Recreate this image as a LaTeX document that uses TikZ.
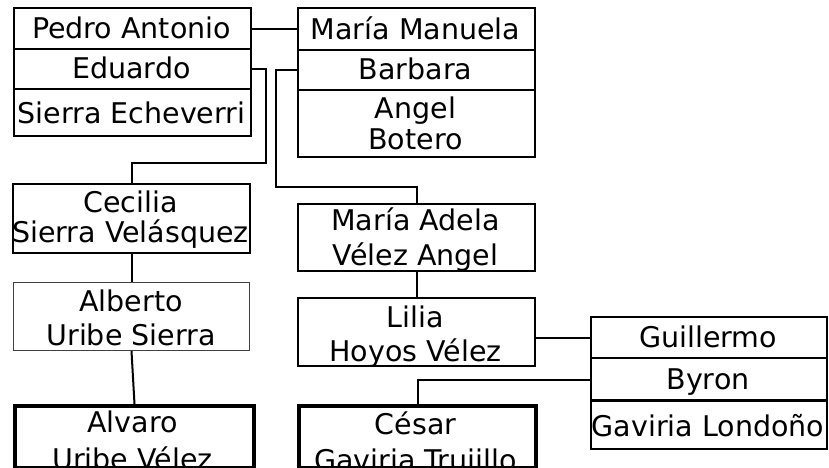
\documentclass[tikz,border=0pt]{standalone}
\usepackage{fontspec}
\setmainfont{DejaVu Sans}
\begin{document}
\begin{tikzpicture}[x=1pt,y=-1pt,
  box/.style={draw, line width=2pt, inner sep=0pt, anchor=north west},
  thickbox/.style={box, line width=4pt},
  thinbox/.style={box, line width=1pt, draw=black!75},
  txt/.style={inner sep=0pt, anchor=base, font=\fontsize{28.5}{31}\selectfont},
  conn/.style={line width=2pt}]
\useasboundingbox (0,0) rectangle (829,467);
\clip (0,0) rectangle (829,467);
% left family group
\node[box, minimum width=237, minimum height=41] (pa) at (13,7) {};
\node[box, minimum width=237, minimum height=40] (ed) at (13,48) {};
\node[box, minimum width=237, minimum height=47] (se) at (13,88) {};
\node[txt] (tpa) at (131.5,38.5) {Pedro Antonio};
\node[txt] (ted) at (131.5,78.5) {Eduardo};
\node[txt] (tse) at (131.5,123.5) {Sierra Echeverri};
% right family group
\node[box, minimum width=237, minimum height=42] (mm) at (297,7) {};
\node[box, minimum width=237, minimum height=40] (ba) at (297,49) {};
\node[box, minimum width=237, minimum height=67] (ab) at (297,89) {};
\node[txt] (tmm) at (415.5,39) {María Manuela};
\node[txt] (tba) at (415.5,79) {Barbara};
\node[txt] (tab1) at (415.5,118) {Angel};
\node[txt] (tab2) at (415.5,149) {Botero};
% Cecilia, Alberto, Alvaro
\node[box, minimum width=237, minimum height=69] (ce) at (12,183) {};
\node[txt] (tce1) at (130.5,212) {Cecilia};
\node[txt] (tce2) at (130.5,242) {Sierra Velásquez};
\node[thinbox, minimum width=236, minimum height=68] (al) at (13,282) {};
\node[txt] (tal1) at (131,311) {Alberto};
\node[txt] (tal2) at (131,345) {Uribe Sierra};
\node[thickbox, minimum width=239, minimum height=62] (av) at (13,404) {};
\node[txt] (tav1) at (132.5,432) {Alvaro};
\node[txt] (tav2) at (132.5,469) {Uribe Vélez};
% María Adela, Lilia, César
\node[box, minimum width=237, minimum height=67] (ma) at (297,203) {};
\node[txt] (tma1) at (415.5,230) {María Adela};
\node[txt] (tma2) at (415.5,265) {Vélez Angel};
\node[box, minimum width=237, minimum height=68] (li) at (297,297) {};
\node[txt] (tli1) at (415.5,327) {Lilia};
\node[txt] (tli2) at (415.5,361) {Hoyos Vélez};
\node[thickbox, minimum width=237, minimum height=62] (cs) at (297,404) {};
\node[txt] (tcs1) at (415.5,434) {César};
\node[txt] (tcs2) at (415.5,470) {Gaviria Trujillo};
% Guillermo group
\node[box, minimum width=236, minimum height=41] (gu) at (590,316) {};
\node[box, minimum width=236, minimum height=43] (by) at (590,357) {};
\node[box, minimum width=236, minimum height=48] (gl) at (590,400) {};
\draw[line width=3pt] (gl.north west) -- (gl.north east);
\node[txt] (tgu) at (708,347.5) {Guillermo};
\node[txt] (tby) at (708,389) {Byron};
\node[txt] (tgl) at (708,436) {Gaviria Londoño};
% connectors
\coordinate (e1) at (266,163);
\coordinate (b1) at (276,187);
\draw[conn] (pa.east) -- (pa.east -| mm.west);
\draw[conn] (ed.east) -| (e1) -| (ce.north);
\draw[conn] (ba.west) -| (b1) -| (ma.north);
\draw[conn] (ce.south) -- (al.north);
\draw[conn] (al.south) -- (av.north);
\draw[conn] (ma.south) -- (li.north);
\draw[conn] (gu.west -| li.east) -- (gu.west);
\draw[conn] (by.west) -| (cs.north);
\end{tikzpicture}
\end{document}
